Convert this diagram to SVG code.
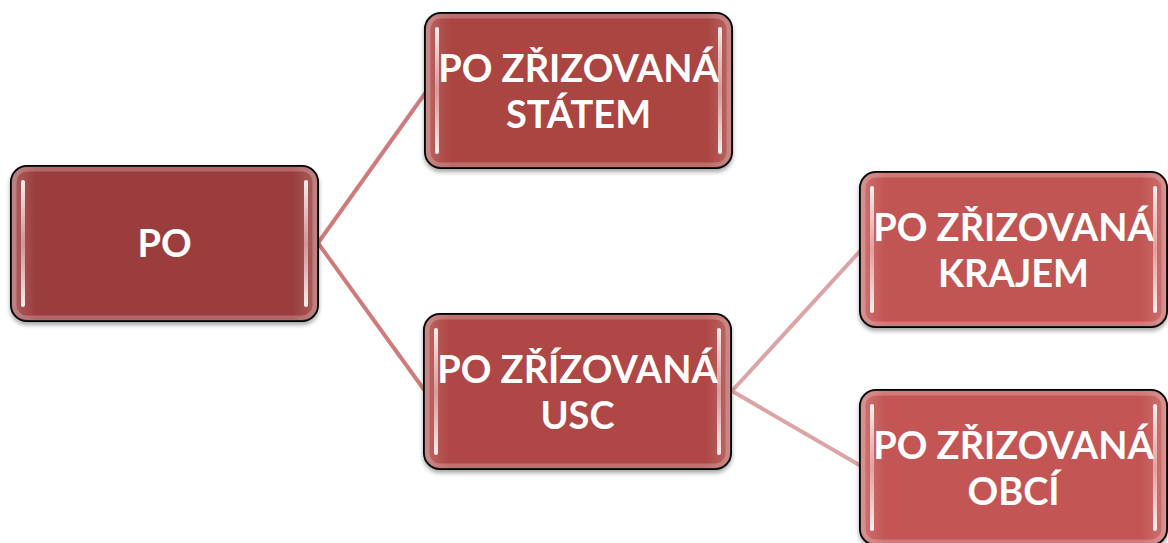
<svg xmlns="http://www.w3.org/2000/svg" width="1168" height="543" viewBox="0 0 1168 543">
  <defs>
    <style>
      .box { stroke: #000; stroke-width: 2; filter: url(#shadow); }
      .glow { fill: none; stroke: #fff; stroke-opacity: 0.22; stroke-width: 5; }
      .stripe { fill: url(#stripeGrad); }
      .sheen { fill: url(#sheenGrad); }
      .label { font-family: Lato, "Open Sans", sans-serif; font-weight: bold; font-size: 38px; fill: #fff; text-anchor: middle; }
      .link1 { stroke: #d07b7b; stroke-width: 4; fill: none; }
      .link2 { stroke: #dca4a4; stroke-width: 4; fill: none; }
    </style>
    <filter id="shadow" x="-5%" y="-5%" width="110%" height="115%">
      <feDropShadow dx="0" dy="3" stdDeviation="2" flood-color="#000" flood-opacity="0.35"/>
    </filter>
    <linearGradient id="stripeGrad" x1="0" y1="0" x2="0" y2="1">
      <stop offset="0" stop-color="#fff" stop-opacity="0.9"/>
      <stop offset="0.5" stop-color="#fcdede" stop-opacity="0.5"/>
      <stop offset="1" stop-color="#fff" stop-opacity="0.9"/>
    </linearGradient>
    <linearGradient id="sheenGrad" x1="0" y1="0" x2="1" y2="0">
      <stop offset="0" stop-color="#fff" stop-opacity="0.18"/>
      <stop offset="0.08" stop-color="#fff" stop-opacity="0"/>
      <stop offset="0.92" stop-color="#fff" stop-opacity="0"/>
      <stop offset="1" stop-color="#fff" stop-opacity="0.18"/>
    </linearGradient>
    <!-- shared box decoration: sheen, inner glow, side highlights -->
    <g id="deco">
      <rect class="sheen" x="1" y="1" width="305" height="153" rx="15"/>
      <rect class="glow" x="3" y="3" width="301" height="149" rx="13"/>
      <rect class="stripe" x="10" y="14" width="4" height="127" rx="2"/>
      <rect class="stripe" x="293" y="14" width="4" height="127" rx="2"/>
    </g>
  </defs>

  <g id="connectors">
    <line class="link1" x1="318" y1="243" x2="426" y2="92"/>
    <line class="link1" x1="318" y1="243" x2="425" y2="391"/>
    <line class="link2" x1="732" y1="391" x2="861" y2="250"/>
    <line class="link2" x1="732" y1="391" x2="861" y2="466"/>
  </g>

  <g id="node-po" transform="translate(11,166)">
    <rect class="box" width="307" height="155" rx="16" fill="#9b3d3c"/>
    <use href="#deco"/>
    <text class="label" x="153.5" y="91">PO</text>
  </g>

  <g id="node-statem" transform="translate(425,13)">
    <rect class="box" width="307" height="155" rx="16" fill="#aa4543"/>
    <use href="#deco"/>
    <text class="label"><tspan x="153.5" y="69">PO ZŘIZOVANÁ</tspan><tspan x="153.5" y="115">STÁTEM</tspan></text>
  </g>

  <g id="node-usc" transform="translate(424,314)">
    <rect class="box" width="307" height="155" rx="16" fill="#ae4744"/>
    <use href="#deco"/>
    <text class="label"><tspan x="153.5" y="69">PO ZŘÍZOVANÁ</tspan><tspan x="153.5" y="115">USC</tspan></text>
  </g>

  <g id="node-krajem" transform="translate(860,172)">
    <rect class="box" width="307" height="155" rx="16" fill="#c15553"/>
    <use href="#deco"/>
    <text class="label"><tspan x="153.5" y="69">PO ZŘIZOVANÁ</tspan><tspan x="153.5" y="115">KRAJEM</tspan></text>
  </g>

  <g id="node-obci" transform="translate(860,390)">
    <rect class="box" width="307" height="155" rx="16" fill="#c35654"/>
    <use href="#deco"/>
    <text class="label"><tspan x="153.5" y="69">PO ZŘIZOVANÁ</tspan><tspan x="153.5" y="115">OBCÍ</tspan></text>
  </g>
</svg>
